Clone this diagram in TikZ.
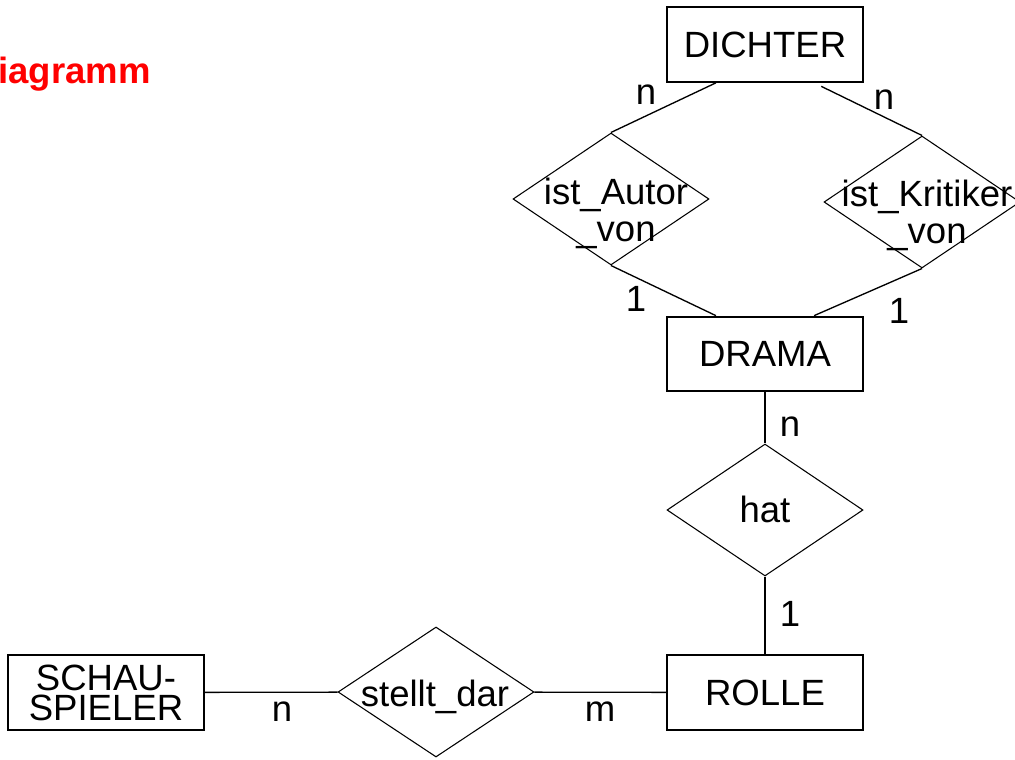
\documentclass[tikz,border=0pt]{standalone}
\usepackage{fontspec}
\setmainfont{Liberation Sans}
\usetikzlibrary{shapes.geometric}

\tikzset{
  entity/.style={draw, line width=1.5pt, minimum width=147pt, minimum height=56pt, inner sep=0pt, align=center},
  relation/.style={diamond, draw, line width=0.8pt, minimum width=147pt, minimum height=99pt, inner sep=0pt},
  card/.style={inner sep=0pt},
  link/.style={line width=1pt},
}

\begin{document}
\begin{tikzpicture}[x=0.75pt,y=0.75pt,yscale=-1,xscale=1,font=\fontsize{27.4}{27.75}\selectfont]
\useasboundingbox (0,0) rectangle (1015,760);

% Title (cut at the left edge)
\node[anchor=base west, inner sep=0pt, text=red, font=\fontsize{27.4}{30}\selectfont\bfseries] (titel) at (-2,83) {iagramm};

% Entities
\node[entity] (dichter) at (765,44.5) {DICHTER};
\node[entity] (drama) at (765,354) {DRAMA};
\node[entity] (rolle) at (765,692.5) {ROLLE};
\node[entity, font=\fontsize{27.4}{22.5}\selectfont] (schauspieler) at (106,692.5) {SCHAU-\\SPIELER};

% Relationships
\node[relation] (autor) at (611,199) {};
\node[relation] (kritiker) at (922,202) {};
\node[relation] (hat) at (765,510) {};
\node[relation, minimum height=97.5pt] (stellt) at (436,692) {};

% Text Node
\node[align=center, inner sep=0pt] (autortext) at (616,213) {ist\_Autor\\\_von};
\node[align=center, inner sep=0pt] (kritikertext) at (927,215) {ist\_Kritiker\\\_von};
\node[inner sep=0pt] (hattext) at (765,509) {hat};
\node[inner sep=0pt] (stellttext) at (435,697) {stellt\_dar};

% Cardinalities
\node[card] (n1) at (646,95) {n};
\node[card] (n2) at (884,100) {n};
\node[card] (e1) at (636,299) {1};
\node[card] (e2) at (899,311) {1};
\node[card] (n3) at (790,427) {n};
\node[card] (e3) at (790,614) {1};
\node[card] (n4) at (282,712) {n};
\node[card] (m1) at (600,712) {m};

% Straight Lines
\draw[link] (dichter.218) -- (autor.north);
\draw[link, shorten <=6pt] (dichter.322) -- (kritiker.north);
\draw[link] (autor.south) -- (drama.142);
\draw[link] (kritiker.south) -- (drama.38);
\draw[link] (drama) -- (hat);
\draw[link] (hat) -- (rolle);
\draw[link] (schauspieler) -- (stellt);
\draw[link] (stellt) -- (rolle);

\end{tikzpicture}
\end{document}
